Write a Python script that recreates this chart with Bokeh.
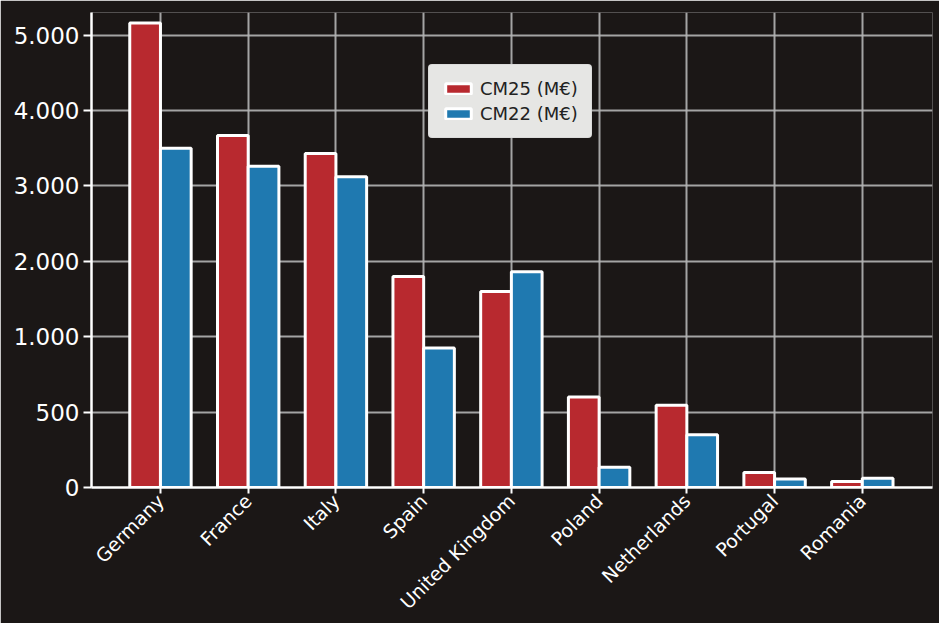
from bokeh.plotting import figure
from bokeh.models import (ColumnDataSource, Range1d, FixedTicker, CustomJSTickFormatter,
                          CustomJSTransform, Legend, LegendItem)
from bokeh.transform import transform, dodge
from bokeh.embed import file_html
from bokeh.resources import INLINE
import math

# ---- data (M€) ----
countries = ["Germany", "France", "Italy", "Spain", "United Kingdom",
             "Poland", "Netherlands", "Portugal", "Romania"]
cm25 = [5160, 3670, 3430, 1800, 1600, 600, 545, 100, 40]
cm22 = [3500, 3260, 3120, 925, 1860, 135, 350, 57, 61]
y_tick_values = [0, 500, 1000, 2000, 3000, 4000, 5000]
y_tick_labels = ["0", "500", "1.000", "2.000", "3.000", "4.000", "5.000"]
y_max_value = 5300

# The reference axis is piecewise: 0-1000 spans two tick steps of 500, above that one step per 1000.
def seg_py(v):
    return v / 500 if v <= 1000 else 1 + v / 1000

seg = CustomJSTransform(
    func="return x <= 1000 ? x / 500 : 1 + x / 1000;",
    v_func="return Array.from(xs, x => (x <= 1000 ? x / 500 : 1 + x / 1000));",
)

BG = "#1b1716"
RED = "#b8292f"
BLUE = "#1f79b0"
FONT = "DejaVu Sans"

src = ColumnDataSource(dict(idx=list(range(len(countries))), country=countries, cm25=cm25, cm22=cm22))

p = figure(width=939, height=623, output_backend="svg", toolbar_location=None,
           x_range=Range1d(-0.786, 8.80), y_range=Range1d(0, seg_py(y_max_value)),
           min_border_left=91, min_border_right=7, min_border_top=12, min_border_bottom=135)
p.background_fill_color = BG
p.border_fill_color = BG
p.outline_line_color = None

r1 = p.vbar(x=dodge("idx", -0.175), top=transform("cm25", seg), width=0.35, source=src,
            fill_color=RED, line_color="white", line_width=3)
r2 = p.vbar(x=dodge("idx", 0.175), top=transform("cm22", seg), width=0.35, source=src,
            fill_color=BLUE, line_color="white", line_width=3)

# grid
for g in (p.xgrid, p.ygrid):
    g.grid_line_color = "#b4b4b4"
    g.grid_line_width = 2
    g.grid_line_alpha = 0.9
    g.level = "underlay"

# y axis
ypos = [seg_py(v) for v in y_tick_values]
p.yaxis.ticker = FixedTicker(ticks=ypos)
p.yaxis.formatter = CustomJSTickFormatter(args=dict(pos=ypos, labels=y_tick_labels),
    code="for (let i = 0; i < pos.length; i++) { if (Math.abs(pos[i] - tick) < 1e-6) return labels[i]; } return '';")
p.ygrid.ticker = p.yaxis.ticker

# x axis
xpos = list(range(len(countries)))
p.xaxis.ticker = FixedTicker(ticks=xpos)
p.xaxis.formatter = CustomJSTickFormatter(args=dict(pos=xpos, labels=countries),
    code="for (let i = 0; i < pos.length; i++) { if (Math.abs(pos[i] - tick) < 1e-6) return labels[i]; } return '';")
p.xgrid.ticker = p.xaxis.ticker
p.xaxis.major_label_orientation = math.pi / 4

for ax in (p.xaxis, p.yaxis):
    ax.axis_line_color = "white"
    ax.axis_line_width = 2.5
    ax.major_tick_line_color = "white"
    ax.major_tick_line_width = 2
    ax.major_tick_in = 0
    ax.minor_tick_line_color = None
    ax.major_label_text_color = "white"
    ax.major_label_text_font = FONT
p.yaxis.major_tick_out = 8
p.yaxis.major_label_standoff = 4
p.yaxis.major_label_text_font_size = "23px"
p.xaxis.major_tick_out = 6
p.xaxis.major_label_standoff = 4
p.xaxis.major_label_text_font_size = "19px"

legend = Legend(items=[LegendItem(label="CM25 (M€)", renderers=[r1]),
                       LegendItem(label="CM22 (M€)", renderers=[r2])],
                location=(337, 349))
legend.background_fill_color = "#e6e6e4"
legend.background_fill_alpha = 1.0
legend.border_line_color = "#cfcfcf"
legend.border_line_width = 1
legend.label_text_font = FONT
legend.label_text_font_size = "18px"
legend.label_text_color = "#222222"
legend.glyph_width = 32
legend.glyph_height = 13
legend.label_height = 20
legend.label_standoff = 6
legend.spacing = 4
legend.padding = 13
legend.margin = 0
if "border_radius" in legend.properties():
    legend.border_radius = 4
p.add_layout(legend, "center")

open("out.html", "w").write(file_html(p, INLINE))
